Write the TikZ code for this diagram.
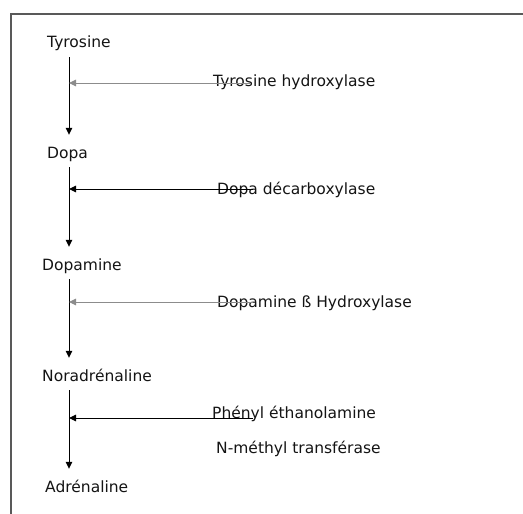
\documentclass[tikz,border=0pt]{standalone}
\usepackage{fontspec}
\setmainfont{DejaVu Sans}
\usetikzlibrary{arrows.meta}
\begin{document}
\begin{tikzpicture}[x=1pt,y=-1pt,
  mol/.style={anchor=base west,inner sep=0pt,text height=12pt,text depth=4pt,
    font=\fontsize{15.5}{18}\selectfont,text=black!92},
  enz/.style={mol},
  flow/.style={-{Triangle[length=7pt,width=6.5pt]},line width=1pt,black},
  side/.style={-{Triangle[length=7pt,width=6.5pt]},line width=1pt},
]
\useasboundingbox (0,0) rectangle (523,514);
\fill[white] (0,0) rectangle (523,514);
\draw[line width=1.8pt,black!65] (11,514) -- (11,14) -- (523,14);
\coordinate (ax) at (69,0);
% molecules
\node[mol] (tyr) at (47,48) {Tyrosine};
\node[mol] (dopa) at (47,158) {Dopa};
\node[mol] (dopam) at (42,270) {Dopamine};
\node[mol] (nor) at (42,381) {Noradrénaline};
\node[mol] (adr) at (45,492) {Adrénaline};
% enzymes
\node[enz] (e1) at (213,86) {Tyrosine hydroxylase};
\node[enz] (e2) at (217,194) {Dopa décarboxylase};
\node[enz] (e3) at (217,307) {Dopamine ß Hydroxylase};
\node[enz] (e4) at (212,418) {Phényl éthanolamine};
\node[enz] (e5) at (216,453) {N-méthyl transférase};
% main flow
\draw[flow,shorten <=5pt,shorten >=11pt] (tyr.south -| ax) -- (dopa.north -| ax);
\draw[flow,shorten <=5pt,shorten >=11pt] (dopa.south -| ax) -- (dopam.north -| ax);
\draw[flow,shorten <=5pt,shorten >=11pt] (dopam.south -| ax) -- (nor.north -| ax);
\draw[flow,shorten <=5pt,shorten >=11pt] (nor.south -| ax) -- (adr.north -| ax);
% enzyme arrows
\draw[side,black!45] ([shift={(37,-3)}]e1.base west) -- ([yshift=3pt]e1.base west -| ax);
\draw[side,black] ([shift={(36,-5)}]e2.base west) -- ([yshift=5pt]e2.base west -| ax);
\draw[side,black!45] ([shift={(36,-5)}]e3.base west) -- ([yshift=5pt]e3.base west -| ax);
\draw[side,black] ([shift={(41,0)}]e4.base west) -- (e4.base west -| ax);
\end{tikzpicture}
\end{document}
